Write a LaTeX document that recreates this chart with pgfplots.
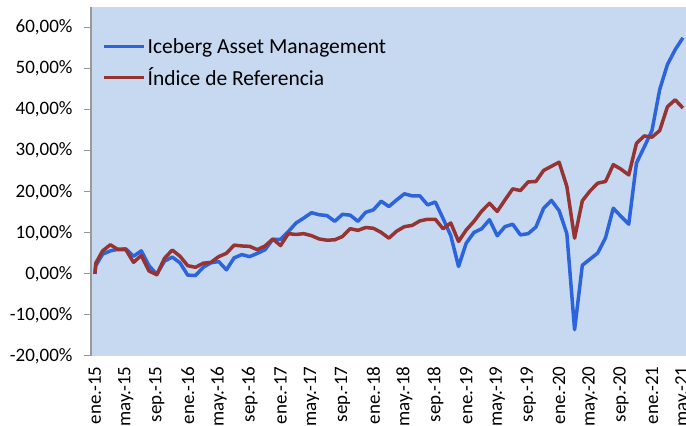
\documentclass[border=0pt]{standalone}
\usepackage{fontspec}
\setmainfont{Carlito}
\usepackage{pgfplots}
\pgfplotsset{compat=1.18}
\usepackage{pgfplotstable}
\definecolor{bgblue}{RGB}{198,217,241}
\definecolor{lblue}{RGB}{45,100,220}
\definecolor{lred}{RGB}{149,52,50}
\pgfplotstableread{
x blue red
0 0 0
0.12 2.0 2.6
1 4.8 5.6
2 5.6 7.1
3 6.0 5.9
4 6.1 5.9
5 4.3 2.8
6 5.6 4.5
7 2.0 0.7
8 -0.1 -0.2
9 3.1 3.8
10 4.1 5.8
11 2.7 4.3
12 -0.3 2.0
13 -0.4 1.6
14 1.6 2.6
15 2.7 2.8
16 3.0 4.2
17 1.0 5.0
18 3.9 7.0
19 4.7 6.8
20 4.2 6.7
21 5.0 5.9
22 5.9 6.8
23 8.4 8.5
24 8.4 6.9
25 10.3 9.8
26 12.4 9.6
27 13.6 9.8
28 14.9 9.3
29 14.4 8.5
30 14.2 8.2
31 12.8 8.3
32 14.5 9.1
33 14.3 11.0
34 12.8 10.6
35 15.0 11.3
36 15.6 11.1
37 17.7 10.1
38 16.4 8.7
39 18.0 10.4
40 19.5 11.5
41 19.0 11.8
42 19.0 12.9
43 16.8 13.3
44 17.5 13.3
45 13.5 11.0
46 9.3 12.4
47 1.8 7.9
48 7.5 10.7
49 10.1 12.8
50 11.0 15.3
51 13.2 17.2
52 9.3 15.2
53 11.5 18.0
54 12.1 20.7
55 9.5 20.3
56 9.8 22.4
57 11.4 22.5
58 16.0 25.2
59 17.9 26.2
60 15.4 27.2
61 9.8 21.3
62 -13.6 8.7
63 2.1 17.8
64 3.6 20.2
65 5.1 22.1
66 8.8 22.5
67 16.0 26.6
68 14.0 25.5
69 12.1 24.1
70 27.0 31.8
71 30.9 33.6
72 34.9 33.3
73 44.9 34.9
74 51.0 40.7
75 54.6 42.4
76 57.5 40.4
}\datatable
\begin{document}
\begin{tikzpicture}
\begin{axis}[
  name=ax,
  scale only axis,
  width=595pt, height=349pt,
  xmin=-0.5, xmax=76.4,
  ymin=-20, ymax=65,
  axis background/.style={fill=bgblue},
  axis lines=left,
  axis line style={-},
  x axis line style={draw=none},
  y axis line style={draw=gray!80, line width=1.5pt},
  tick align=outside,
  major tick length=7pt,
  ytick={-20,-10,0,10,20,30,40,50,60},
  yticklabels={{-20,00\%},{-10,00\%},{0,00\%},{10,00\%},{20,00\%},{30,00\%},{40,00\%},{50,00\%},{60,00\%}},
  ytick style={draw=gray!80, line width=1pt},
  xtick={0,4,...,76},
  xticklabels={ene.-15,may.-15,sep.-15,ene.-16,may.-16,sep.-16,ene.-17,may.-17,sep.-17,ene.-18,may.-18,sep.-18,ene.-19,may.-19,sep.-19,ene.-20,may.-20,sep.-20,ene.-21,may.-21},
  xtick style={draw=none},
  xticklabel style={rotate=90, anchor=east, font=\fontsize{19}{22}\selectfont},
  yticklabel style={font=\fontsize{19}{22}\selectfont, xshift=-8pt},
  legend cell align=left,
  legend style={draw=none, fill=none, at={(0,1)}, anchor=north west, xshift=8pt, yshift=-27pt,
    font=\fontsize{21.5}{24}\selectfont, row sep=9pt},
  legend image code/.code={\draw[#1, line width=3.5pt] (0pt,0pt) -- (40pt,0pt);},
]
\addplot[lblue, line width=3.5pt, line join=round] table[x=x, y=blue] {\datatable};
\addlegendentry{Iceberg Asset Management}
\addplot[lred, line width=3.5pt, line join=round] table[x=x, y=red] {\datatable};
\addlegendentry{Índice de Referencia}
\end{axis}
\pgfresetboundingbox
\path[use as bounding box] ([shift={(-91pt,-70pt)}]ax.south west) rectangle ([shift={(0pt,7pt)}]ax.north east);
\end{tikzpicture}
\end{document}
